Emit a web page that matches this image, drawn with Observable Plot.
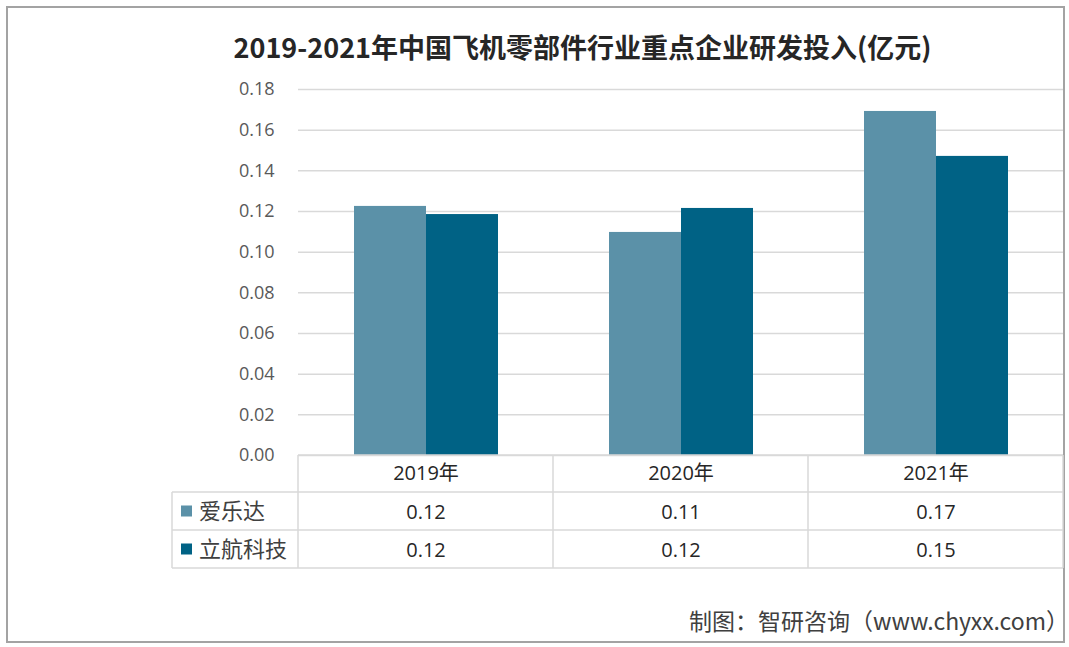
<!DOCTYPE html>
<html><head><meta charset="utf-8">
<script src="https://cdn.jsdelivr.net/npm/d3@7"></script>
<script src="https://cdn.jsdelivr.net/npm/@observablehq/plot@0.6"></script>
<style>
html,body{margin:0;padding:0;background:#fff;overflow:hidden;width:1069px;height:647px;}
#frame{position:absolute;left:6px;top:6px;width:1055px;height:633px;border:2px solid #a3a3a3;}
#title{position:absolute;left:100px;width:965px;top:28px;text-align:center;font-family:'Noto Sans CJK SC',sans-serif;font-weight:bold;font-size:27px;line-height:38px;color:#262626;white-space:nowrap;}
#chart{position:absolute;left:0;top:70px;}
#caption{position:absolute;right:0px;top:604px;font-family:'Noto Sans CJK SC',sans-serif;font-size:23px;line-height:32px;color:#404040;white-space:nowrap;}
</style></head><body>
<div id="frame"></div>
<div id="title">2019-2021年中国飞机零部件行业重点企业研发投入(亿元)</div>
<div id="chart"></div>
<div id="caption">制图：智研咨询（www.chyxx.com）</div>
<script>
const years = ["2019年", "2020年", "2021年"];
const companies = ["爱乐达", "立航科技"];
const aileda = [0.1225, 0.1097, 0.1692];
const lihang = [0.1185, 0.1215, 0.1471];
const tableAileda = ["0.12", "0.11", "0.17"];
const tableLihang = ["0.12", "0.12", "0.15"];
const yTicks = [0, 0.02, 0.04, 0.06, 0.08, 0.10, 0.12, 0.14, 0.16, 0.18];
const colors = ["#5b91a8", "#006285"];

const series = [aileda, lihang];
const data = years.flatMap((yr, i) => companies.map((c, j) => ({year: yr, company: c, value: series[j][i]})));
const table = years.map((yr, i) => ({year: yr, a: tableAileda[i], b: tableLihang[i]}));

const plot = Plot.plot({
  width: 1069, height: 520,
  marginTop: 19, marginBottom: 135, marginLeft: 298, marginRight: 6,
  style: {fontFamily: "'Open Sans','Noto Sans CJK SC',sans-serif", fontSize: "18px", color: "#595959", background: "transparent"},
  fx: {domain: years, padding: 0, axis: null, label: null},
  x: {domain: companies, paddingInner: 0, paddingOuter: 0.747, axis: null},
  y: {domain: [0, 0.18], ticks: yTicks, tickFormat: d3.format(".2f"), tickSize: 0, tickPadding: 24, label: null},
  color: {domain: companies, range: colors},
  marks: [
    Plot.gridY(yTicks, {stroke: "#d9d9d9", strokeOpacity: 1, strokeWidth: 1.5}),
    Plot.barY(data, {fx: "year", x: "company", y: "value", fill: "company"}),
    Plot.text(table, {fx: "year", text: "year", frameAnchor: "bottom", lineAnchor: "middle", dy: 18, fontSize: 20, fill: "#262626"}),
    Plot.text(table, {fx: "year", text: "a", frameAnchor: "bottom", lineAnchor: "middle", dy: 57, fontSize: 20, fill: "#262626"}),
    Plot.text(table, {fx: "year", text: "b", frameAnchor: "bottom", lineAnchor: "middle", dy: 95, fontSize: 20, fill: "#262626"})
  ]
});
document.getElementById("chart").appendChild(plot);

// data table grid drawn from the fx scale
const fx = plot.scale("fx");
const svg = d3.select(plot);
const y0 = 520 - 135;
const edges = years.map(y => fx.apply(y)).concat([fx.apply(years[years.length - 1]) + fx.bandwidth]);
const xl = edges[0], xr = edges[edges.length - 1], xLeg = 172;
const rowH = [37, 38, 38];
const rows = [y0, y0 + rowH[0], y0 + rowH[0] + rowH[1], y0 + rowH[0] + rowH[1] + rowH[2]];
const g = svg.append("g").attr("stroke", "#d9d9d9").attr("stroke-width", 1.5);
g.append("line").attr("x1", xl).attr("x2", xr).attr("y1", rows[0]).attr("y2", rows[0]);
rows.slice(1).forEach(r => g.append("line").attr("x1", xLeg).attr("x2", xr).attr("y1", r).attr("y2", r));
edges.forEach(e => g.append("line").attr("x1", e).attr("x2", e).attr("y1", rows[0]).attr("y2", rows[3]));
g.append("line").attr("x1", xLeg).attr("x2", xLeg).attr("y1", rows[1]).attr("y2", rows[3]);

// legend cells
const leg = svg.append("g").attr("text-anchor", "start");
companies.forEach((c, j) => {
  const cy = (rows[j + 1] + rows[j + 2]) / 2;
  leg.append("rect").attr("x", 181).attr("y", cy - 5.5).attr("width", 11).attr("height", 11).attr("fill", colors[j]);
  leg.append("text").attr("x", 199).attr("y", cy).attr("dy", "0.35em").attr("text-anchor", "start")
    .attr("font-family", "'Noto Sans CJK SC',sans-serif").attr("font-size", 22).attr("fill", "#404040").text(c);
});
</script>
</body></html>
